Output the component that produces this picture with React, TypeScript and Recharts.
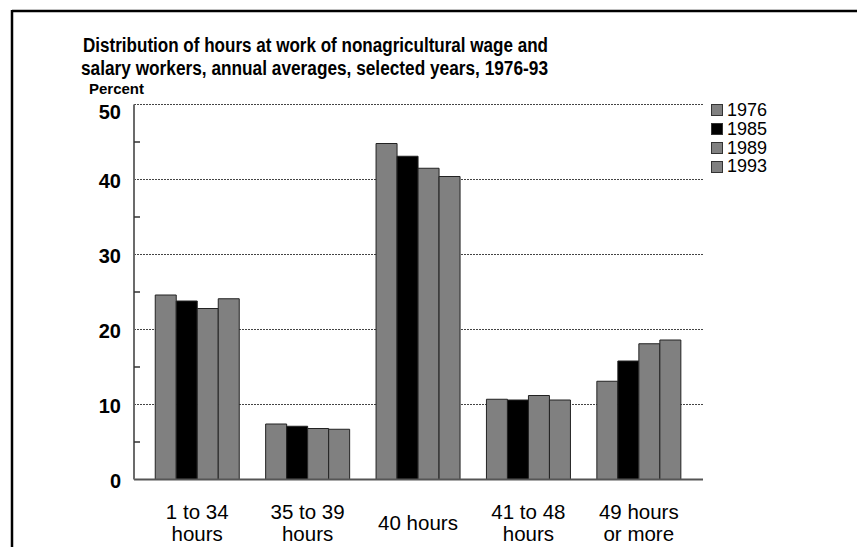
import React from "react";
import {
  BarChart,
  Bar,
  XAxis,
  YAxis,
  CartesianGrid,
  Legend,
} from "recharts";

const categories = [
  "1 to 34\nhours",
  "35 to 39\nhours",
  "40 hours",
  "41 to 48\nhours",
  "49 hours\nor more",
];
const years = ["1976", "1985", "1989", "1993"];
const values1976 = [24.6, 7.4, 44.8, 10.7, 13.1];
const values1985 = [23.8, 7.1, 43.1, 10.6, 15.8];
const values1989 = [22.8, 6.8, 41.5, 11.2, 18.1];
const values1993 = [24.1, 6.7, 40.4, 10.6, 18.6];
const yTicks = [0, 5, 10, 15, 20, 25, 30, 35, 40, 45, 50];
const gridValues = [10, 20, 30, 40, 50];

const titleLines = [
  "Distribution of hours at work of nonagricultural wage and",
  "salary workers, annual averages, selected years, 1976-93",
];

const FONT = "'Liberation Sans', Arial, sans-serif";
const fills = ["#808080", "#000000", "#808080", "#808080"];

const data = categories.map((name, i) => ({
  name,
  "1976": values1976[i],
  "1985": values1985[i],
  "1989": values1989[i],
  "1993": values1993[i],
}));

const YTick = (props: any) => {
  const { x, y, payload } = props;
  const v = payload.value;
  if (v % 10 !== 0) {
    // minor tick, drawn inward from the axis
    return <line x1={x + 13} x2={x + 19} y1={y} y2={y} stroke="#333" strokeWidth={1.5} />;
  }
  // top label sits a bit lower so it stays under the frame
  const dy = v === 50 ? 14.5 : 8;
  return (
    <text x={x} y={y} dy={dy} textAnchor="end" fontFamily={FONT} fontWeight="bold" fontSize={20} fill="#000">
      {v}
    </text>
  );
};

const XTick = (props: any) => {
  const { x, y, payload } = props;
  const lines = String(payload.value).split("\n");
  const start = lines.length === 1 ? 50 : 39;
  return (
    <g>
      {lines.map((t, i) => (
        <text key={i} x={x} y={y + start + i * 22} textAnchor="middle" fontFamily={FONT} fontSize={20.5} fill="#000">
          {t}
        </text>
      ))}
    </g>
  );
};

const LegendBox = (props: any) => {
  const { payload } = props;
  return (
    <div style={{ fontFamily: FONT }}>
      {(payload || []).map((p: any) => (
        <div key={p.value} style={{ display: "flex", alignItems: "center", height: 18.8 }}>
          <span
            style={{
              display: "inline-block",
              width: 10,
              height: 10,
              background: p.color,
              border: "1px solid #333",
              marginRight: 4,
            }}
          />
          <span style={{ fontSize: 18, lineHeight: "18.8px", color: "#000" }}>{p.value}</span>
        </div>
      ))}
    </div>
  );
};

export default function App() {
  return (
    <div style={{ position: "absolute", left: 0, top: 0, width: 857, height: 547, background: "#fff" }}>
      <BarChart
        width={857}
        height={547}
        data={data}
        margin={{ top: 104.5, right: 154, bottom: 37.5, left: 0 }}
        barCategoryGap="12%"
        barGap={0}
      >
        <CartesianGrid
          horizontal
          vertical={false}
          horizontalValues={gridValues}
          stroke="#444"
          strokeDasharray="2 1"
        />
        <XAxis
          dataKey="name"
          height={30}
          padding={{ left: 8, right: 9 }}
          tickLine={false}
          tickSize={0}
          tickMargin={0}
          interval={0}
          axisLine={{ stroke: "#555", strokeWidth: 2 }}
          tick={<XTick />}
        />
        <YAxis
          domain={[0, 50]}
          ticks={yTicks}
          width={134}
          tickLine={false}
          tickSize={0}
          tickMargin={13}
          interval={0}
          axisLine={{ stroke: "#6b6b6b", strokeWidth: 2 }}
          tick={<YTick />}
        />
        <YAxis
          yAxisId="r"
          orientation="right"
          width={0}
          domain={[0, 50]}
          tick={false}
          tickLine={false}
          axisLine={{ stroke: "#6b6b6b", strokeWidth: 2 }}
        />
        <Legend
          layout="vertical"
          align="center"
          verticalAlign="middle"
          content={<LegendBox />}
          wrapperStyle={{ left: 711, top: 101, right: "auto", bottom: "auto", width: 80 }}
        />
        {years.map((yr, i) => (
          <Bar
            key={yr}
            dataKey={yr}
            fill={fills[i]}
            stroke="#222"
            strokeWidth={1}
            isAnimationActive={false}
          />
        ))}
      </BarChart>
      <svg
        width={857}
        height={547}
        style={{ position: "absolute", left: 0, top: 0, pointerEvents: "none" }}
      >
        <line x1={12} x2={857} y1={11} y2={11} stroke="#000" strokeWidth={2.5} />
        <line x1={12} x2={12} y1={10} y2={547} stroke="#000" strokeWidth={2.5} />
        {titleLines.map((t, i) => (
          <text
            key={i}
            x={i === 0 ? 83 : 81}
            y={52 + i * 23}
            fontFamily={FONT}
            fontWeight="bold"
            fontSize={19.5}
            fill="#000"
            textLength={i === 0 ? 465 : 467}
            lengthAdjust="spacingAndGlyphs"
          >
            {t}
          </text>
        ))}
        <text x={89} y={94} fontFamily={FONT} fontWeight="bold" fontSize={15} fill="#000">
          Percent
        </text>
      </svg>
    </div>
  );
}
